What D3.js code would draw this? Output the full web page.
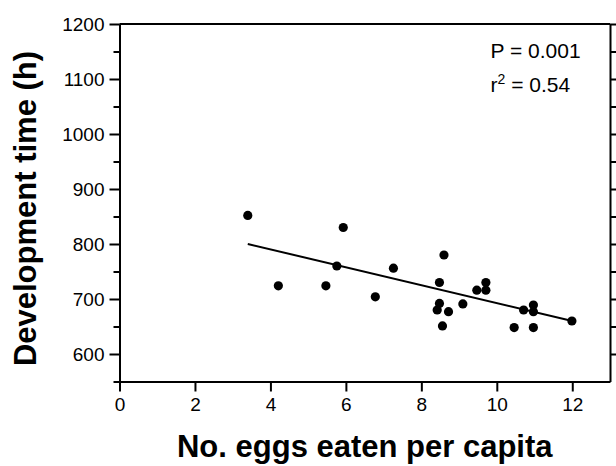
<!DOCTYPE html>
<html>
<head>
<meta charset="utf-8">
<script src="https://cdn.jsdelivr.net/npm/d3@7"></script>
<style>
  body { margin: 0; background: #fff; }
  svg { display: block; }
  text { font-family: "Liberation Sans", Arial, Helvetica, sans-serif; fill: #000; }
  .axis path, .axis line { stroke: #000; stroke-width: 2; }
</style>
</head>
<body>
<div id="chart"></div>
<script>
// eggs eaten per capita vs development time (h)
const eggs = [3.4, 4.21, 5.47, 5.76, 5.93, 6.78, 7.26,
              8.42, 8.48, 8.48, 8.56, 8.6, 8.72, 9.1, 9.47, 9.71, 9.71,
              10.46, 10.71, 10.97, 10.97, 10.97, 11.99];
const devTime = [852, 724, 724, 760, 830, 704, 756,
                 680, 692, 730, 651, 780, 677, 691, 716, 716, 730,
                 648, 680, 689, 677, 648, 660];

// regression line end points
const fitX = [3.4, 12];
const fitY = [800, 660];

const xTicks = [0, 2, 4, 6, 8, 10, 12];
const yTicks = [600, 700, 800, 900, 1000, 1100, 1200];
const yMinor = [550, 650, 750, 850, 950, 1050, 1150];
const statLines = ["P = 0.001", "0.54"];

const W = 616, H = 466;
const margin = {top: 24, right: 6, bottom: 84.5, left: 119.5};
const width = W - margin.left - margin.right,
      height = H - margin.top - margin.bottom;

const svg = d3.select("#chart").append("svg")
    .attr("width", W)
    .attr("height", H);

const g = svg.append("g")
    .attr("transform", `translate(${margin.left},${margin.top})`);

const x = d3.scaleLinear().domain([0, 13]).range([0, width]);
const y = d3.scaleLinear().domain([550, 1200]).range([height, 0]);

// top border
g.append("line")
    .attr("x1", 0).attr("x2", width)
    .attr("y1", 0).attr("y2", 0)
    .attr("stroke", "#000").attr("stroke-width", 2);

// x axis
const xAxis = g.append("g")
    .attr("class", "axis")
    .attr("transform", `translate(0,${height})`)
    .call(d3.axisBottom(x).tickValues(xTicks).tickSize(10).tickSizeOuter(0).tickPadding(6));
xAxis.selectAll("text").style("font-size", "19px");

// left axis, minor ticks
g.append("g")
    .attr("class", "axis")
    .call(d3.axisLeft(y).tickValues(yMinor).tickSize(6).tickSizeOuter(0).tickFormat(""));

// left axis, major ticks
const yAxis = g.append("g")
    .attr("class", "axis")
    .call(d3.axisLeft(y).tickValues(yTicks).tickSize(10).tickSizeOuter(0)
        .tickPadding(5).tickFormat(d3.format("d")));
yAxis.selectAll("text").style("font-size", "19px");

// right axis
g.append("g")
    .attr("class", "axis")
    .attr("transform", `translate(${width},0)`)
    .call(d3.axisRight(y).tickValues(yTicks.concat(yMinor.slice(1))).tickSize(8).tickSizeOuter(0).tickFormat(""));

// regression line
g.append("line")
    .attr("x1", x(fitX[0])).attr("y1", y(fitY[0]))
    .attr("x2", x(fitX[1])).attr("y2", y(fitY[1]))
    .attr("stroke", "#000").attr("stroke-width", 2);

// points
g.selectAll(".dot")
    .data(eggs.map((e, i) => ({e: e, t: devTime[i]})))
    .enter()
    .append("circle")
    .attr("class", "dot")
    .attr("cx", d => x(d.e))
    .attr("cy", d => y(d.t))
    .attr("r", 4.6)
    .attr("fill", "#000");

// stats
g.append("text")
    .attr("x", 371)
    .attr("y", 34)
    .style("font-size", "21px")
    .text(statLines[0]);

const r2 = g.append("text")
    .attr("x", 371)
    .attr("y", 67.5)
    .style("font-size", "21px");
r2.append("tspan").text("r");
r2.append("tspan").attr("dy", -8).style("font-size", "14px").text("2");
r2.append("tspan").attr("dy", 8).text(" = " + statLines[1]);

// axis titles
svg.append("text")
    .attr("x", margin.left + width / 2)
    .attr("y", 457)
    .attr("text-anchor", "middle")
    .style("font-size", "31px")
    .style("font-weight", "bold")
    .text("No. eggs eaten per capita");

svg.append("text")
    .attr("transform", "translate(36,208.5) rotate(-90)")
    .attr("text-anchor", "middle")
    .style("font-size", "31px")
    .style("font-weight", "bold")
    .text("Development time (h)");
</script>
</body>
</html>
